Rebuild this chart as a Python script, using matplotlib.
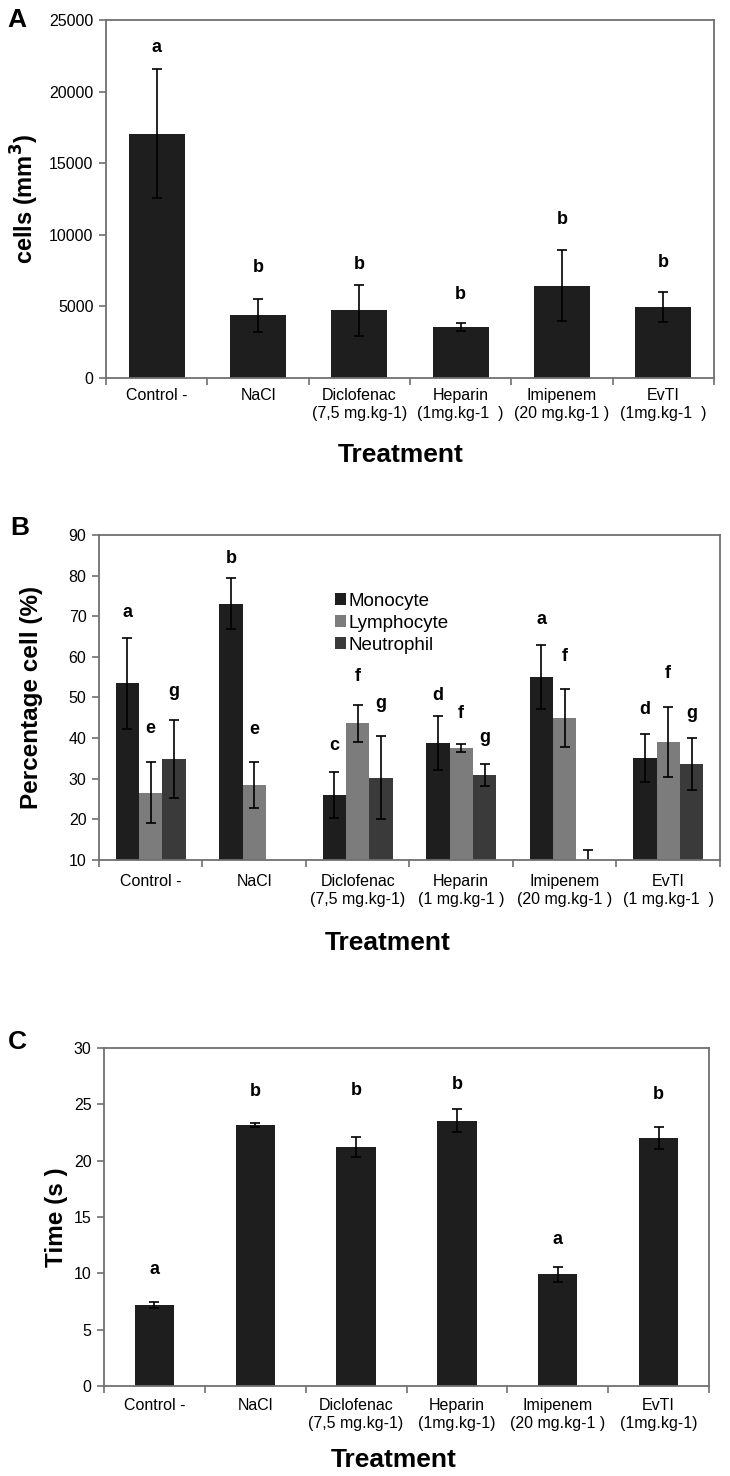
import numpy as np
import matplotlib.pyplot as plt

plt.rcParams['font.family'] = ['Liberation Sans', 'DejaVu Sans']

# ----------------------------
# Data
# ----------------------------
treat_A = ["Control -", "NaCl", "Diclofenac\n(7,5 mg.kg-1)", "Heparin\n(1mg.kg-1  )",
           "Imipenem\n(20 mg.kg-1 )", "EvTI\n(1mg.kg-1  )"]
treat_B = ["Control -", "NaCl", "Diclofenac\n(7,5 mg.kg-1)", "Heparin\n(1 mg.kg-1 )",
           "Imipenem\n(20 mg.kg-1 )", "EvTI\n(1 mg.kg-1  )"]
treat_C = ["Control -", "NaCl", "Diclofenac\n(7,5 mg.kg-1)", "Heparin\n(1mg.kg-1)",
           "Imipenem\n(20 mg.kg-1 )", "EvTI\n(1mg.kg-1)"]

# A: cells (mm3)
cells_mean = [17050, 4350, 4700, 3560, 6430, 4940]
cells_err = [4500, 1170, 1800, 280, 2500, 1060]
cells_sig = ["a", "b", "b", "b", "b", "b"]
cells_sig_y = [23070, 7690, 7920, 5830, 11070, 8040]

# B: percentage cell
mono_mean = [53.5, 73.1, 26.0, 38.8, 55.0, 35.2]
mono_err = [11.2, 6.3, 5.7, 6.7, 7.8, 5.9]
lymph_mean = [26.6, 28.4, 43.6, 37.5, 44.9, 39.1]
lymph_err = [7.5, 5.7, 4.6, 1.0, 7.2, 8.6]
neut_mean = [34.9, np.nan, 30.3, 30.9, 8.5, 33.6]
neut_err = [9.6, np.nan, 10.3, 2.8, 4.0, 6.4]
mono_sig = ["a", "b", "c", "d", "a", "d"]
mono_sig_y = [70.9, 84.2, 38.3, 50.4, 69.1, 47.1]
lymph_sig = ["e", "e", "f", "f", "f", "f"]
lymph_sig_y = [42.4, 42.2, 55.1, 46.1, 60.0, 55.8]
neut_sig = ["g", "", "g", "g", "", "g"]
neut_sig_y = [51.4, 0, 48.4, 40.2, 0, 46.1]

# C: time (s)
time_mean = [7.18, 23.2, 21.2, 23.55, 9.93, 22.0]
time_err = [0.25, 0.18, 0.9, 1.05, 0.67, 0.95]
time_sig = ["a", "b", "b", "b", "a", "b"]
time_sig_y = [10.3, 26.1, 26.2, 26.8, 13.0, 25.9]

bar_dark = '#1e1e1e'
spine_col = '#707070'

fig = plt.figure(figsize=(7.3, 14.76), dpi=100)


def style_axes(ax, labels, n, pad):
    for s in ax.spines.values():
        s.set_color(spine_col)
        s.set_linewidth(1.3)
    ax.set_xlim(-0.5, n - 0.5)
    ax.set_xticks(np.arange(n))
    ax.set_xticklabels(labels, fontsize=11.5, linespacing=1.25)
    ax.set_xticks(np.arange(n + 1) - 0.5, minor=True)
    ax.tick_params(axis='x', which='major', length=0, pad=pad)
    ax.tick_params(axis='x', which='minor', length=5, width=1.2, color=spine_col, direction='out')
    ax.tick_params(axis='y', length=5, width=1.2, color=spine_col, direction='out',
                   labelsize=11.5, pad=4)


x = np.arange(6)
eb_kw = dict(ecolor='black', elinewidth=1.2, capsize=3.5, capthick=1.2)

# ----------------------------
# Panel A
# ----------------------------
axA = fig.add_axes([0.1452, 0.7442, 0.8329, 0.2422])
axA.bar(x, cells_mean, width=0.55, color=bar_dark, yerr=cells_err, error_kw=eb_kw)
axA.set_ylim(0, 25000)
axA.set_yticks(np.arange(0, 25001, 5000))
style_axes(axA, treat_A, 6, 7.5)
for xi, s, y in zip(x, cells_sig, cells_sig_y):
    axA.text(xi, y, s, ha='center', va='center', fontsize=13, fontweight='bold')
axA.set_ylabel("cells (mm$^\\mathbf{3}$)", fontsize=17, fontweight='bold')
axA.yaxis.set_label_coords(-0.133, 0.5)
axA.yaxis.label.set_va('center')
axA.set_xlabel("Treatment", fontsize=19, fontweight='bold')
axA.xaxis.set_label_coords(0.484, -0.217)
axA.xaxis.label.set_va('center')
fig.text(17 / 730, 1 - 20 / 1476, "A", fontsize=19, fontweight='bold', ha='center', va='center')

# ----------------------------
# Panel B
# ----------------------------
axB = fig.add_axes([0.1356, 0.41734, 0.8507, 0.2202])
w = 0.225
series = [(mono_mean, mono_err, '#1e1e1e', "Monocyte", mono_sig, mono_sig_y),
          (lymph_mean, lymph_err, '#7c7c7c', "Lymphocyte", lymph_sig, lymph_sig_y),
          (neut_mean, neut_err, '#3a3a3a', "Neutrophil", neut_sig, neut_sig_y)]
for k, (m, e, c, name, sig, sig_y) in enumerate(series):
    xs = x + (k - 1) * w
    axB.bar(xs, m, width=w, color=c, label=name, yerr=e, error_kw=eb_kw)
    for xi, s, y in zip(xs, sig, sig_y):
        if s:
            axB.text(xi, y, s, ha='center', va='center', fontsize=13, fontweight='bold')
axB.set_ylim(10, 90)
axB.set_yticks(np.arange(10, 91, 10))
style_axes(axB, treat_B, 6, 10)
leg = axB.legend(loc='upper left', bbox_to_anchor=(0.38, 0.823), frameon=False, fontsize=13.5,
                 handlelength=0.6, handleheight=0.6, handletextpad=0.1, labelspacing=0.28,
                 borderpad=0, borderaxespad=0)
axB.set_ylabel("Percentage cell (%)", fontsize=17.5, fontweight='bold')
axB.yaxis.set_label_coords(-0.108, 0.5)
axB.yaxis.label.set_va('center')
axB.set_xlabel("Treatment", fontsize=19, fontweight='bold')
axB.xaxis.set_label_coords(0.465, -(943 - 860) / 325)
axB.xaxis.label.set_va('center')
fig.text(20 / 730, 1 - 528 / 1476, "B", fontsize=19, fontweight='bold', ha='center', va='center')

# ----------------------------
# Panel C
# ----------------------------
axC = fig.add_axes([0.1425, 0.06098, 0.8288, 0.2290])
axC.bar(x, time_mean, width=0.39, color=bar_dark, yerr=time_err, error_kw=eb_kw)
axC.set_ylim(0, 30)
axC.set_yticks(np.arange(0, 31, 5))
style_axes(axC, treat_C, 6, 8.5)
for xi, s, y in zip(x, time_sig, time_sig_y):
    axC.text(xi, y, s, ha='center', va='center', fontsize=13, fontweight='bold')
axC.set_ylabel("Time (s )", fontsize=17.5, fontweight='bold')
axC.yaxis.set_label_coords(-0.078, 0.5)
axC.yaxis.label.set_va('center')
axC.set_xlabel("Treatment", fontsize=19, fontweight='bold')
axC.xaxis.set_label_coords(0.478, -(1460 - 1386) / 338)
axC.xaxis.label.set_va('center')
fig.text(17 / 730, 1 - 1042 / 1476, "C", fontsize=19, fontweight='bold', ha='center', va='center')

fig.savefig("out.png", dpi=100)
